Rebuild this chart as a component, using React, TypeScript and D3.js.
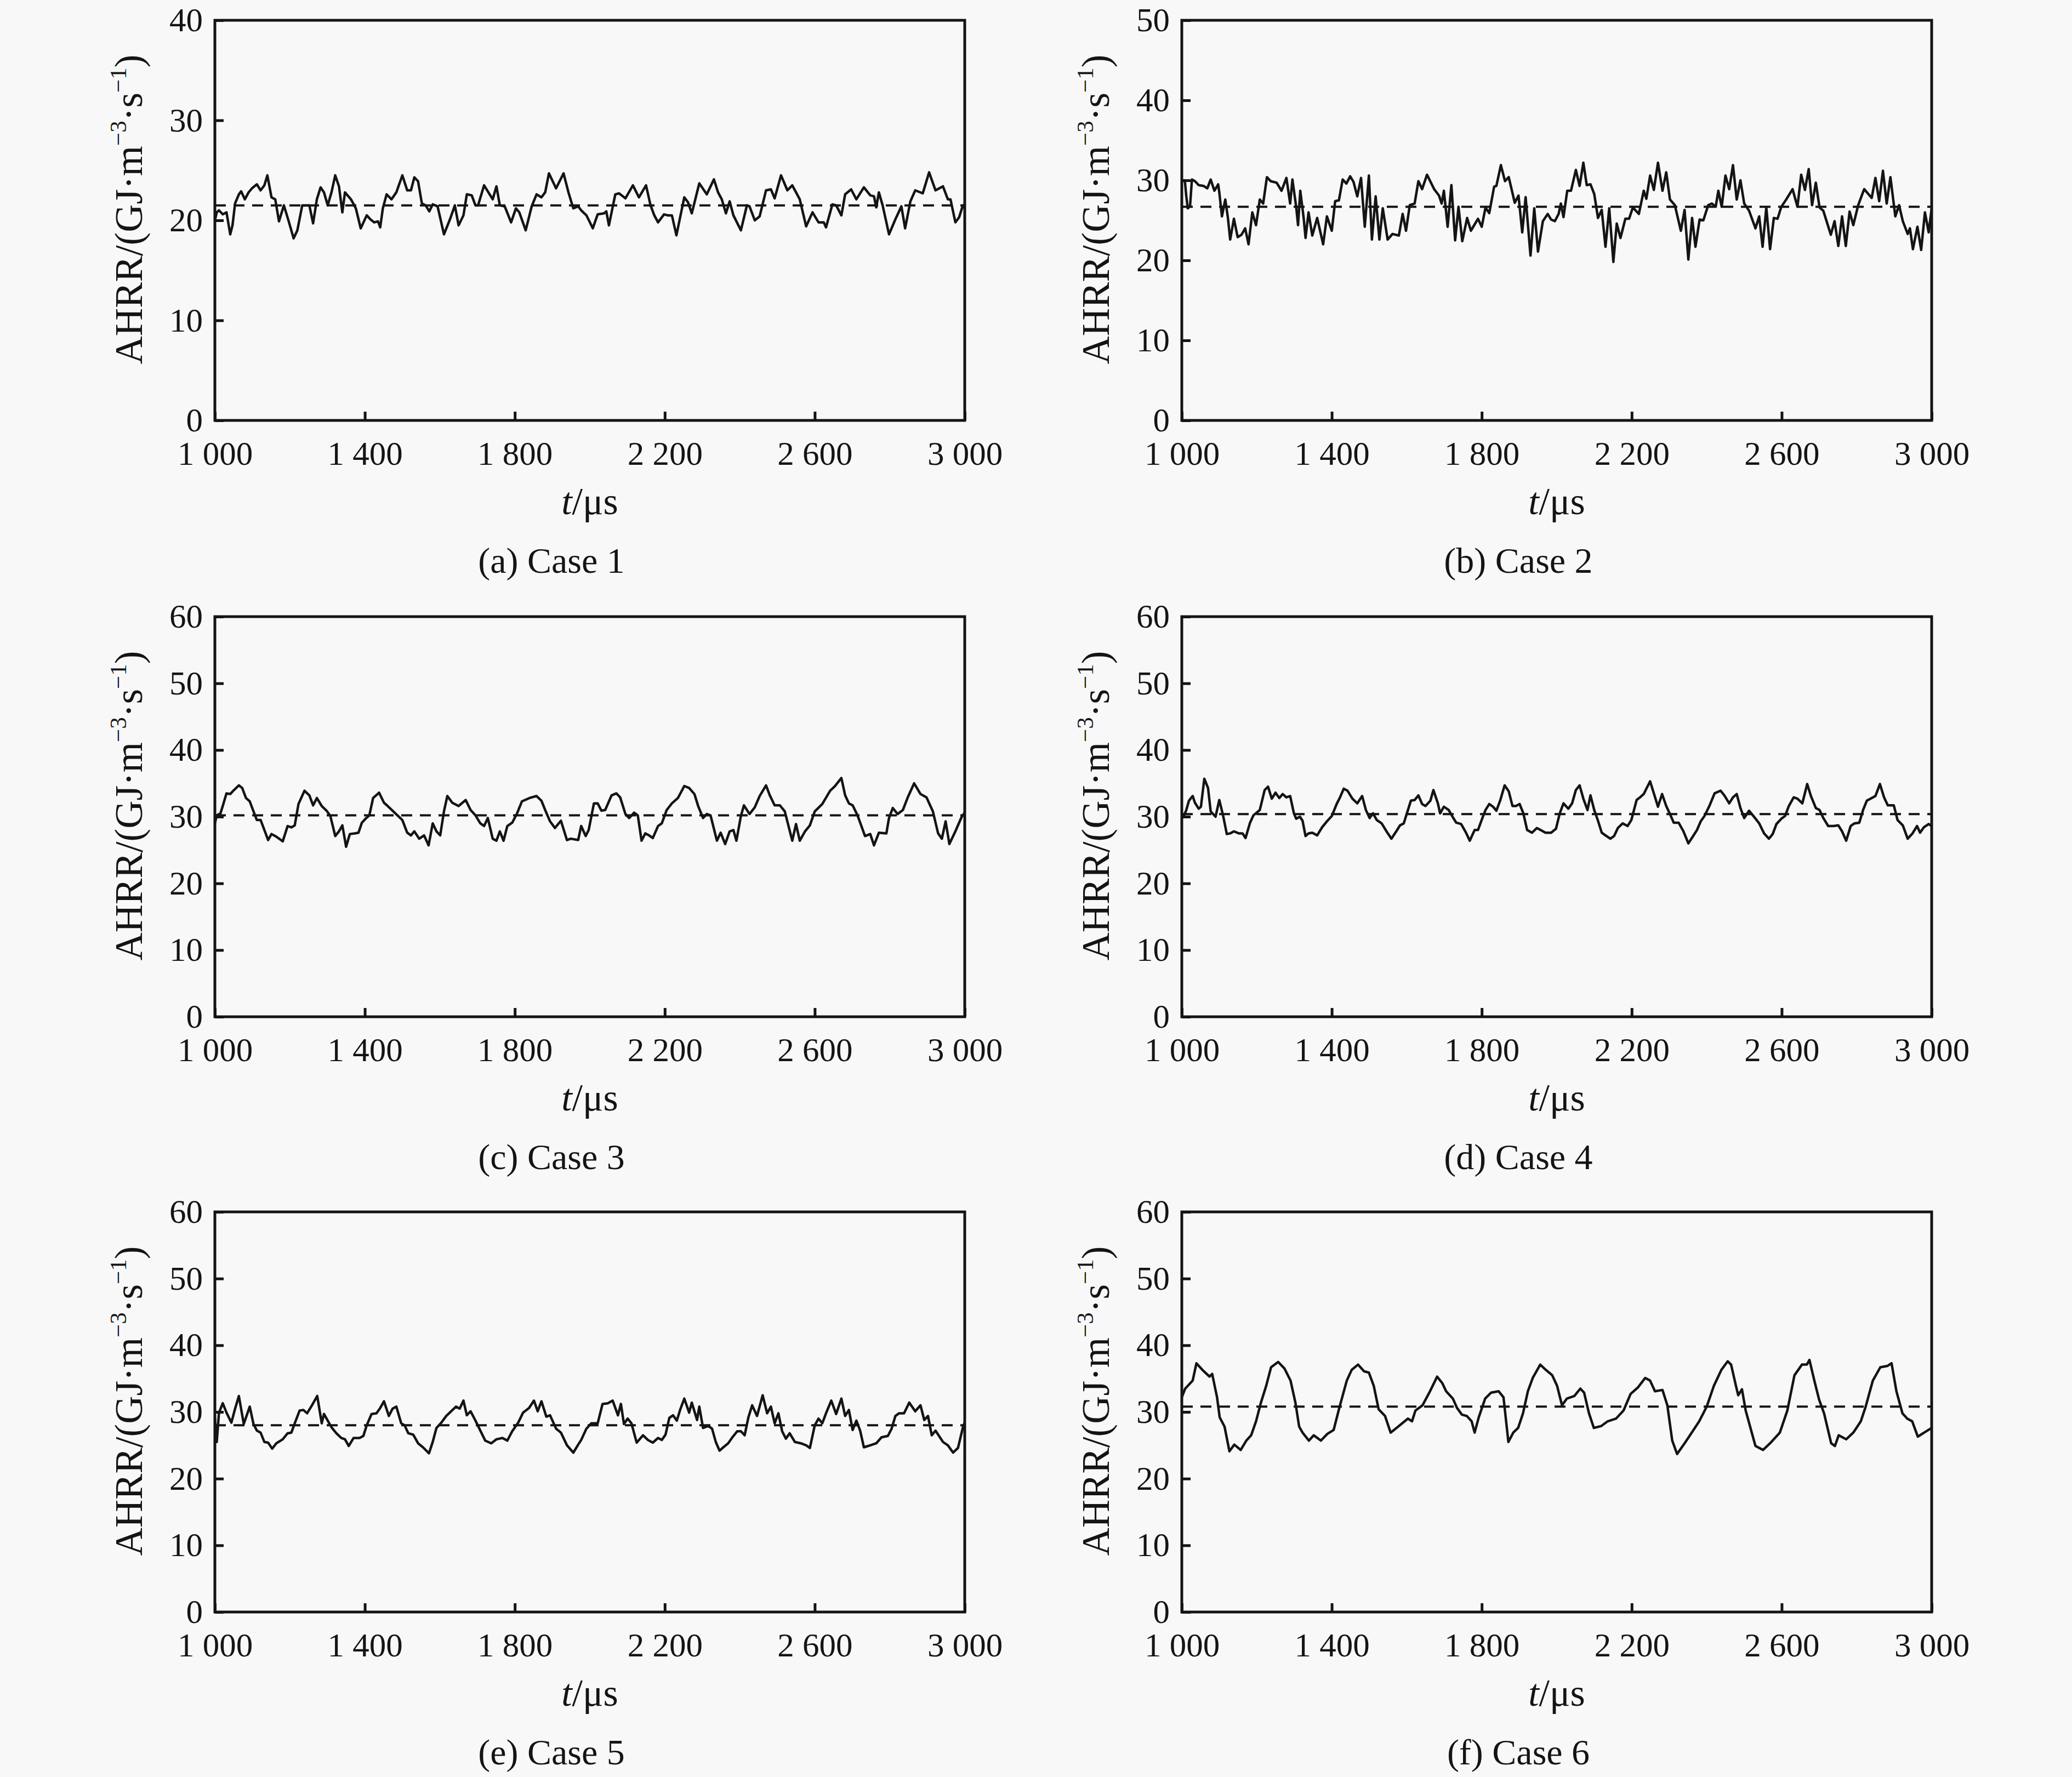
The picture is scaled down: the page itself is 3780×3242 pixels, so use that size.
import React, { useEffect, useRef } from 'react';
import * as d3 from 'd3';

type Pt = [number, number];

// AHRR time series, t in µs, value in GJ·m^-3·s^-1
const case1: Pt[] = [
  [1000, 20.0], [1005, 20.8], [1011, 21.0], [1021, 20.6], [1031, 20.8], [1041, 18.6], [1047, 19.5], [1054, 21.7],
  [1064, 22.6], [1070, 22.9], [1080, 22.1], [1090, 22.8], [1099, 23.2], [1112, 23.6], [1122, 23.0], [1132, 23.5],
  [1140, 24.5], [1151, 22.3], [1161, 22.1], [1171, 19.9], [1184, 21.5], [1197, 19.9], [1210, 18.2], [1220, 19.0],
  [1233, 21.5], [1243, 21.5], [1252, 21.5], [1262, 19.7], [1272, 22.1], [1282, 23.3], [1291, 22.8], [1301, 21.5],
  [1311, 22.8], [1321, 24.5], [1331, 23.4], [1340, 20.8], [1347, 22.8], [1363, 22.1], [1376, 21.2], [1389, 19.2],
  [1405, 20.5], [1415, 20.1], [1425, 19.8], [1435, 19.9], [1441, 19.3], [1448, 21.2], [1458, 22.6], [1471, 22.1],
  [1484, 22.8], [1500, 24.5], [1513, 23.0], [1523, 23.0], [1532, 24.3], [1542, 23.9], [1552, 21.7], [1562, 21.5],
  [1572, 20.9], [1581, 21.6], [1594, 21.4], [1611, 18.6], [1627, 20.1], [1640, 21.5], [1650, 19.5], [1663, 20.5],
  [1672, 22.6], [1685, 22.5], [1695, 21.5], [1702, 21.5], [1718, 23.5], [1741, 22.1], [1751, 23.4], [1760, 21.5],
  [1773, 21.4], [1790, 19.8], [1803, 21.2], [1812, 20.8], [1829, 19.0], [1845, 21.4], [1858, 22.6], [1871, 22.3],
  [1881, 22.8], [1891, 24.7], [1910, 23.2], [1930, 24.7], [1943, 22.8], [1956, 21.2], [1969, 21.4], [1977, 21.0],
  [1991, 20.5], [2008, 19.2], [2021, 20.6], [2038, 20.7], [2044, 20.9], [2051, 19.5], [2068, 22.6], [2078, 22.7],
  [2095, 22.2], [2115, 23.5], [2131, 22.3], [2150, 23.5], [2162, 21.5], [2172, 20.5], [2182, 19.8], [2198, 20.6],
  [2208, 20.5], [2219, 20.5], [2231, 18.5], [2242, 20.5], [2252, 22.3], [2262, 21.8], [2272, 20.7], [2292, 23.7],
  [2312, 22.6], [2331, 24.1], [2342, 22.8], [2352, 22.1], [2363, 20.7], [2373, 21.9], [2383, 20.5], [2403, 19.0],
  [2419, 21.5], [2426, 21.4], [2440, 20.0], [2453, 20.4], [2470, 23.0], [2483, 23.1], [2493, 22.2], [2510, 24.5],
  [2527, 23.0], [2540, 23.5], [2560, 22.1], [2577, 19.4], [2594, 20.8], [2610, 19.8], [2624, 19.8], [2630, 19.3],
  [2647, 21.6], [2657, 21.5], [2671, 20.5], [2681, 22.6], [2697, 23.1], [2711, 22.1], [2731, 23.3], [2748, 22.5],
  [2758, 22.4], [2764, 21.3], [2771, 22.8], [2781, 21.5], [2798, 18.6], [2815, 20.1], [2831, 21.4], [2841, 19.2],
  [2855, 21.9], [2868, 23.0], [2888, 22.7], [2905, 24.8], [2922, 23.0], [2942, 23.4], [2955, 22.1], [2962, 22.1],
  [2975, 19.8], [2985, 20.3], [2995, 21.5], [3000, 21.2],
];

const case2: Pt[] = [
  [1000, 29.9], [1008, 30.0], [1012, 28.0], [1016, 26.5], [1022, 26.8], [1027, 30.1], [1035, 29.9], [1045, 29.4],
  [1058, 29.3], [1068, 29.0], [1077, 30.1], [1087, 28.7], [1097, 29.5], [1100, 28.5], [1107, 25.5], [1116, 27.6],
  [1123, 25.3], [1129, 22.6], [1139, 25.2], [1149, 22.9], [1159, 23.2], [1169, 24.0], [1178, 22.0], [1188, 26.0],
  [1198, 24.4], [1208, 27.6], [1217, 27.1], [1227, 30.4], [1237, 29.9], [1253, 29.7], [1266, 28.7], [1279, 30.3],
  [1289, 27.1], [1295, 30.1], [1305, 26.7], [1310, 24.4], [1316, 28.7], [1325, 25.3], [1330, 22.8], [1338, 26.0],
  [1348, 23.1], [1361, 25.3], [1377, 22.0], [1387, 25.5], [1400, 23.7], [1409, 27.4], [1419, 27.5], [1429, 30.1],
  [1439, 29.6], [1449, 30.5], [1458, 29.8], [1468, 28.0], [1478, 30.3], [1488, 24.2], [1499, 30.6], [1507, 22.6],
  [1517, 28.0], [1527, 22.6], [1536, 26.5], [1549, 22.6], [1562, 23.3], [1579, 23.1], [1589, 25.8], [1598, 23.7],
  [1608, 26.9], [1621, 27.1], [1631, 29.9], [1641, 28.9], [1654, 30.7], [1673, 28.9], [1686, 28.1], [1693, 27.1],
  [1699, 28.7], [1709, 24.2], [1719, 29.4], [1729, 22.5], [1738, 26.7], [1748, 22.4], [1761, 25.3], [1771, 23.7],
  [1790, 25.2], [1800, 24.2], [1810, 26.6], [1820, 25.9], [1833, 29.2], [1839, 29.3], [1851, 31.9], [1862, 29.9],
  [1872, 30.4], [1888, 27.2], [1898, 28.1], [1908, 23.5], [1917, 27.9], [1930, 20.6], [1940, 26.5], [1950, 21.1],
  [1963, 24.9], [1976, 25.8], [1985, 25.1], [1995, 24.9], [2005, 25.8], [2011, 27.1], [2018, 25.4], [2028, 28.7],
  [2038, 28.7], [2051, 31.3], [2061, 29.3], [2071, 32.2], [2080, 29.4], [2090, 29.5], [2100, 28.3], [2110, 25.3],
  [2120, 26.3], [2130, 21.7], [2140, 26.5], [2151, 19.8], [2160, 24.6], [2170, 22.8], [2183, 25.2], [2193, 25.2],
  [2203, 26.6], [2219, 25.8], [2232, 28.7], [2239, 27.7], [2249, 30.6], [2259, 28.8], [2270, 32.2], [2282, 28.7],
  [2292, 31.0], [2302, 27.6], [2315, 26.9], [2331, 23.7], [2341, 26.3], [2351, 20.1], [2361, 25.3], [2370, 21.7],
  [2381, 25.1], [2391, 25.0], [2404, 26.9], [2414, 27.1], [2424, 26.7], [2431, 28.7], [2440, 26.7], [2450, 30.6],
  [2460, 28.9], [2470, 31.9], [2480, 27.6], [2490, 30.0], [2500, 27.1], [2513, 26.2], [2530, 24.0], [2540, 25.5],
  [2549, 21.7], [2559, 26.6], [2569, 21.4], [2579, 25.3], [2589, 25.2], [2599, 26.7], [2612, 27.6], [2629, 28.9],
  [2642, 26.7], [2652, 30.7], [2662, 28.8], [2672, 31.4], [2681, 26.9], [2691, 29.7], [2701, 26.6], [2711, 26.2],
  [2731, 23.2], [2741, 24.9], [2751, 21.8], [2761, 25.5], [2771, 21.8], [2781, 26.1], [2791, 24.4], [2804, 26.9],
  [2820, 28.9], [2840, 27.8], [2850, 30.3], [2860, 27.4], [2870, 31.2], [2880, 27.1], [2890, 30.4], [2903, 25.5],
  [2913, 26.9], [2923, 24.9], [2936, 23.3], [2942, 24.0], [2950, 21.4], [2962, 24.2], [2972, 21.3], [2982, 26.0],
  [2992, 23.5], [3000, 26.5],
];

const case3: Pt[] = [
  [1000, 29.0], [1005, 30.2], [1015, 30.5], [1021, 31.6], [1031, 33.5], [1041, 33.4], [1051, 34.0], [1064, 34.7],
  [1073, 34.3], [1083, 32.8], [1093, 32.3], [1103, 30.8], [1112, 29.5], [1122, 29.5], [1132, 28.0], [1142, 26.5],
  [1151, 27.4], [1164, 27.0], [1181, 26.3], [1194, 28.6], [1204, 28.4], [1213, 28.7], [1223, 31.9], [1239, 33.9],
  [1252, 33.2], [1262, 31.7], [1272, 32.8], [1285, 31.6], [1298, 30.9], [1308, 30.1], [1321, 27.1], [1331, 27.8],
  [1340, 28.7], [1350, 25.5], [1360, 27.4], [1373, 27.5], [1383, 27.6], [1392, 29.1], [1402, 29.7], [1412, 30.2],
  [1422, 32.8], [1438, 33.6], [1451, 32.1], [1461, 31.6], [1474, 30.9], [1487, 30.2], [1500, 29.5], [1513, 27.6],
  [1523, 27.2], [1532, 27.8], [1545, 26.7], [1558, 27.2], [1570, 25.7], [1581, 29.0], [1591, 27.8], [1601, 27.2],
  [1611, 30.8], [1620, 33.1], [1633, 32.1], [1650, 31.6], [1669, 32.5], [1682, 31.0], [1695, 30.2], [1708, 29.0],
  [1718, 28.6], [1728, 29.8], [1741, 26.7], [1751, 26.4], [1760, 27.8], [1770, 26.4], [1780, 28.6], [1793, 29.1],
  [1806, 30.5], [1819, 32.3], [1839, 32.8], [1858, 33.1], [1871, 32.4], [1881, 31.0], [1894, 29.3], [1907, 28.3],
  [1923, 29.4], [1939, 26.5], [1949, 26.7], [1969, 26.5], [1977, 28.6], [1989, 27.1], [1997, 28.0], [2011, 32.0],
  [2021, 32.0], [2031, 30.9], [2041, 31.0], [2058, 33.2], [2071, 33.5], [2081, 32.9], [2095, 30.4], [2105, 29.8],
  [2118, 30.6], [2128, 30.2], [2138, 26.4], [2148, 27.5], [2158, 27.2], [2168, 26.8], [2182, 28.6], [2192, 29.0],
  [2205, 31.0], [2219, 32.0], [2235, 32.8], [2252, 34.6], [2265, 34.3], [2279, 33.4], [2289, 31.6], [2302, 29.8],
  [2312, 30.4], [2322, 30.2], [2339, 26.4], [2349, 27.6], [2361, 25.9], [2373, 27.8], [2383, 28.0], [2391, 26.4],
  [2403, 30.1], [2411, 31.7], [2426, 30.4], [2440, 31.4], [2453, 33.1], [2470, 34.7], [2480, 33.2], [2493, 31.7],
  [2507, 31.7], [2520, 30.8], [2540, 26.4], [2550, 28.9], [2560, 26.4], [2574, 27.8], [2587, 28.7], [2600, 30.8],
  [2620, 31.9], [2641, 33.9], [2654, 34.6], [2671, 35.8], [2681, 33.2], [2691, 32.0], [2701, 31.7], [2714, 30.2],
  [2734, 27.1], [2748, 27.4], [2758, 25.7], [2771, 27.6], [2791, 27.5], [2798, 29.8], [2808, 31.3], [2821, 30.4],
  [2835, 31.0], [2848, 32.9], [2865, 35.0], [2882, 33.4], [2898, 32.9], [2915, 30.8], [2929, 27.5], [2939, 26.7],
  [2949, 29.3], [2959, 25.9], [2975, 27.8], [2992, 30.0], [3000, 30.6],
];

const case4: Pt[] = [
  [1000, 29.8], [1006, 30.2], [1012, 31.0], [1019, 32.4], [1029, 33.1], [1035, 32.1], [1045, 31.2], [1051, 31.5],
  [1060, 35.7], [1070, 34.3], [1077, 30.8], [1090, 30.0], [1100, 32.5], [1110, 30.2], [1120, 27.4], [1129, 27.5],
  [1139, 27.8], [1152, 27.5], [1162, 27.5], [1170, 26.8], [1182, 29.1], [1191, 30.2], [1208, 31.0], [1221, 34.0],
  [1230, 34.5], [1240, 32.7], [1250, 33.6], [1260, 32.8], [1269, 33.4], [1279, 32.9], [1289, 33.1], [1299, 30.5],
  [1305, 29.7], [1315, 30.0], [1322, 29.4], [1330, 27.1], [1338, 27.5], [1348, 27.6], [1361, 27.2], [1374, 28.4],
  [1387, 29.3], [1400, 30.1], [1413, 31.9], [1422, 32.9], [1432, 34.2], [1442, 33.9], [1455, 32.7], [1468, 32.0],
  [1481, 33.1], [1491, 31.0], [1501, 29.8], [1510, 30.5], [1520, 29.5], [1533, 29.0], [1546, 27.8], [1559, 26.7],
  [1572, 27.8], [1582, 28.7], [1592, 29.0], [1602, 30.8], [1611, 32.4], [1621, 32.5], [1631, 33.2], [1641, 31.9],
  [1650, 31.6], [1663, 32.4], [1671, 34.0], [1683, 32.0], [1689, 30.5], [1699, 31.5], [1712, 31.0], [1722, 30.0],
  [1732, 29.1], [1745, 28.9], [1758, 27.6], [1768, 26.4], [1781, 28.0], [1790, 28.0], [1803, 30.0], [1810, 31.0],
  [1820, 31.9], [1830, 31.5], [1839, 30.9], [1849, 32.4], [1861, 34.7], [1872, 33.8], [1882, 31.6], [1891, 31.6],
  [1901, 31.9], [1911, 30.5], [1921, 28.0], [1934, 27.6], [1947, 28.3], [1957, 28.0], [1970, 27.6], [1985, 27.6],
  [1998, 28.2], [2008, 30.5], [2018, 32.0], [2031, 31.2], [2041, 32.0], [2051, 34.0], [2061, 34.7], [2071, 32.7],
  [2082, 31.0], [2090, 33.2], [2100, 31.0], [2110, 29.4], [2120, 27.6], [2130, 27.2], [2143, 26.7], [2153, 27.1],
  [2163, 28.3], [2176, 29.0], [2189, 28.6], [2199, 29.5], [2213, 32.5], [2222, 32.9], [2232, 33.4], [2239, 34.2],
  [2249, 35.3], [2259, 33.5], [2270, 31.5], [2281, 33.4], [2292, 31.6], [2302, 30.4], [2312, 29.1], [2325, 29.1],
  [2338, 27.8], [2351, 26.0], [2365, 27.2], [2374, 28.0], [2384, 29.3], [2394, 30.1], [2407, 31.6], [2421, 33.5],
  [2437, 33.9], [2447, 33.2], [2460, 32.0], [2470, 32.9], [2480, 33.4], [2490, 31.3], [2500, 29.8], [2513, 30.9],
  [2526, 30.0], [2540, 29.0], [2553, 27.5], [2566, 26.7], [2576, 27.4], [2586, 28.9], [2599, 29.7], [2609, 30.1],
  [2619, 31.6], [2632, 32.9], [2642, 32.7], [2655, 32.0], [2668, 34.9], [2678, 33.1], [2691, 31.3], [2701, 31.0],
  [2711, 29.8], [2724, 28.6], [2738, 28.6], [2751, 28.7], [2761, 27.8], [2772, 26.4], [2784, 28.6], [2794, 29.0],
  [2807, 29.1], [2817, 31.0], [2827, 32.4], [2840, 32.8], [2850, 33.1], [2862, 34.9], [2873, 32.9], [2883, 31.7],
  [2899, 31.7], [2909, 29.5], [2923, 28.7], [2936, 26.7], [2949, 27.5], [2961, 28.6], [2969, 27.6], [2979, 28.4],
  [2992, 28.9], [3000, 28.6],
];

const case5: Pt[] = [
  [1000, 29.2], [1005, 25.5], [1011, 29.9], [1021, 31.3], [1031, 29.9], [1044, 28.4], [1054, 30.5], [1064, 32.4],
  [1077, 28.2], [1093, 30.8], [1103, 28.2], [1112, 27.2], [1122, 26.9], [1132, 25.5], [1142, 25.4], [1153, 24.5],
  [1164, 25.3], [1181, 25.9], [1194, 26.8], [1204, 26.9], [1213, 28.3], [1226, 30.2], [1236, 30.3], [1246, 29.8],
  [1259, 31.0], [1273, 32.4], [1285, 28.3], [1291, 29.7], [1301, 28.7], [1311, 27.7], [1324, 26.8], [1337, 26.1],
  [1347, 25.9], [1357, 24.9], [1370, 26.1], [1386, 26.1], [1396, 26.4], [1405, 28.0], [1418, 29.7], [1431, 29.8],
  [1441, 30.6], [1451, 31.6], [1464, 29.4], [1474, 30.5], [1484, 30.8], [1497, 28.3], [1506, 28.0], [1516, 26.8],
  [1529, 26.6], [1542, 25.3], [1555, 24.7], [1571, 23.8], [1581, 25.5], [1591, 27.6], [1604, 28.4], [1617, 29.4],
  [1630, 30.1], [1643, 30.8], [1653, 30.5], [1663, 31.7], [1672, 29.5], [1682, 30.1], [1695, 28.7], [1708, 27.2],
  [1721, 25.7], [1737, 25.3], [1751, 25.9], [1767, 26.1], [1780, 25.7], [1793, 27.1], [1809, 28.4], [1822, 29.9],
  [1838, 30.6], [1851, 31.7], [1861, 30.1], [1871, 31.6], [1884, 29.3], [1894, 29.5], [1910, 27.5], [1923, 26.9],
  [1939, 25.0], [1956, 23.9], [1969, 25.1], [1977, 25.8], [1991, 27.5], [2004, 28.3], [2021, 28.3], [2034, 31.2],
  [2048, 31.3], [2061, 31.7], [2075, 29.5], [2083, 31.2], [2091, 28.2], [2101, 29.0], [2111, 28.3], [2125, 25.4],
  [2142, 26.5], [2155, 25.8], [2168, 25.4], [2182, 26.1], [2192, 25.8], [2202, 26.6], [2212, 29.1], [2222, 29.5],
  [2232, 28.7], [2242, 30.5], [2252, 32.0], [2265, 29.9], [2272, 31.4], [2286, 28.8], [2292, 30.8], [2302, 27.6],
  [2316, 27.9], [2326, 27.5], [2336, 25.5], [2346, 24.2], [2356, 24.7], [2369, 25.3], [2379, 26.1], [2393, 27.1],
  [2403, 27.1], [2413, 26.5], [2423, 29.2], [2433, 31.0], [2446, 29.4], [2461, 32.5], [2473, 29.8], [2483, 30.8],
  [2493, 28.3], [2503, 29.8], [2513, 27.1], [2523, 26.0], [2533, 26.8], [2547, 25.5], [2563, 25.3], [2577, 25.0],
  [2587, 24.6], [2600, 28.0], [2610, 29.0], [2620, 28.3], [2630, 29.8], [2644, 31.7], [2657, 29.7], [2671, 32.0],
  [2681, 29.4], [2691, 30.3], [2701, 27.3], [2711, 28.7], [2721, 27.2], [2731, 24.7], [2748, 25.0], [2764, 25.3],
  [2778, 26.2], [2795, 26.4], [2805, 27.5], [2815, 29.4], [2825, 29.8], [2838, 29.8], [2852, 31.4], [2868, 30.1],
  [2882, 31.0], [2892, 28.8], [2902, 29.4], [2912, 26.5], [2922, 27.2], [2942, 25.5], [2955, 25.0], [2969, 23.9],
  [2982, 24.6], [2996, 27.9], [3000, 28.4],
];

const case6: Pt[] = [
  [1000, 32.2], [1009, 33.5], [1029, 34.7], [1039, 37.3], [1055, 36.3], [1074, 35.3], [1081, 35.7], [1094, 32.2],
  [1101, 29.2], [1114, 27.8], [1127, 24.1], [1140, 25.1], [1157, 24.3], [1172, 25.7], [1185, 26.5], [1198, 28.6],
  [1211, 31.4], [1225, 33.9], [1238, 36.7], [1257, 37.5], [1274, 36.5], [1290, 34.7], [1303, 31.4], [1313, 27.8],
  [1322, 26.9], [1339, 25.7], [1352, 26.5], [1371, 25.7], [1388, 26.7], [1405, 27.3], [1420, 30.6], [1440, 34.7],
  [1453, 36.3], [1470, 37.1], [1486, 36.1], [1499, 35.9], [1512, 33.9], [1525, 30.4], [1542, 29.4], [1557, 26.9],
  [1577, 27.8], [1590, 28.4], [1603, 29.0], [1614, 28.6], [1623, 30.2], [1642, 31.0], [1662, 33.1], [1681, 35.3],
  [1695, 34.3], [1705, 33.1], [1723, 32.0], [1734, 30.6], [1747, 29.6], [1760, 29.4], [1773, 28.6], [1781, 26.9],
  [1792, 29.2], [1809, 32.0], [1825, 32.9], [1845, 33.1], [1858, 32.2], [1871, 25.5], [1884, 26.9], [1897, 27.6],
  [1910, 29.8], [1923, 33.1], [1936, 35.1], [1956, 37.1], [1971, 36.3], [1988, 35.5], [2001, 33.9], [2014, 31.0],
  [2027, 32.0], [2047, 32.4], [2063, 33.5], [2073, 32.9], [2086, 29.8], [2099, 27.6], [2119, 27.9], [2136, 28.6],
  [2158, 29.0], [2178, 30.2], [2197, 32.7], [2217, 33.7], [2236, 35.1], [2249, 34.7], [2262, 33.1], [2282, 33.3],
  [2295, 31.0], [2308, 25.7], [2321, 23.7], [2341, 25.3], [2360, 26.9], [2380, 28.6], [2400, 30.8], [2419, 33.9],
  [2439, 36.3], [2456, 37.6], [2465, 37.1], [2478, 33.9], [2484, 32.5], [2494, 33.4], [2504, 30.2], [2530, 24.9],
  [2550, 24.3], [2569, 25.3], [2595, 26.9], [2615, 30.2], [2634, 35.5], [2654, 37.1], [2667, 37.1], [2674, 37.8],
  [2687, 34.7], [2700, 31.8], [2713, 29.8], [2732, 25.3], [2742, 24.9], [2752, 26.5], [2772, 25.9], [2791, 26.9],
  [2811, 28.6], [2824, 30.8], [2843, 34.7], [2863, 36.7], [2882, 36.9], [2893, 37.3], [2906, 33.1], [2922, 29.8],
  [2935, 29.0], [2948, 28.6], [2963, 26.3], [2980, 26.9], [3000, 27.6],
];

const seriesList = [case1, case2, case3, case4, case5, case6];
const meanValues = [21.5, 26.7, 30.2, 30.4, 28.0, 30.8];
const yMaxValues = [40, 50, 60, 60, 60, 60];
const captions = ['(a) Case 1', '(b) Case 2', '(c) Case 3', '(d) Case 4', '(e) Case 5', '(f) Case 6'];
const xTicks = [1000, 1400, 1800, 2200, 2600, 3000];

const W = 3780;
const H = 3242;
const colX = [392, 2156];
const rowY = [37, 1125, 2211];
const plotW = 1368;
const plotH = 730;
const ink = '#141414';
const serif = '"Liberation Serif", "Times New Roman", serif';

const fmtX = (n: number) => `${Math.floor(n / 1000)}\u00a0${String(n % 1000).padStart(3, '0')}`;

const App: React.FC = () => {
  const svgRef = useRef<SVGSVGElement | null>(null);

  useEffect(() => {
    if (!svgRef.current) return;
    const svg = d3.select(svgRef.current);
    svg.selectAll('*').remove();

    svg.append('rect').attr('width', W).attr('height', H).attr('fill', '#f8f8f8');

    seriesList.forEach((data, i) => {
      const left = colX[i % 2];
      const top = rowY[Math.floor(i / 2)];
      const g = svg.append('g').attr('transform', `translate(${left},${top})`);

      const x = d3.scaleLinear().domain([1000, 3000]).range([0, plotW]);
      const y = d3.scaleLinear().domain([0, yMaxValues[i]]).range([plotH, 0]);

      // x axis, ticks pointing inward
      const gx = g.append('g')
        .attr('transform', `translate(0,${plotH})`)
        .call(d3.axisBottom(x).tickValues(xTicks).tickSizeInner(-16).tickSizeOuter(0)
          .tickPadding(38).tickFormat(d => fmtX(d as number)));
      gx.select('.domain').remove();
      gx.attr('font-family', serif).attr('font-size', 61).attr('color', ink);
      gx.selectAll('line').attr('stroke-width', 5);

      // y axis
      const gy = g.append('g')
        .call(d3.axisLeft(y).ticks(yMaxValues[i] / 10).tickSizeInner(-16).tickSizeOuter(0)
          .tickPadding(22).tickFormat(d3.format('d')));
      gy.select('.domain').remove();
      gy.attr('font-family', serif).attr('font-size', 61).attr('color', ink);
      gy.selectAll('line').attr('stroke-width', 5);

      // mean value
      g.append('line')
        .attr('x1', x(1000)).attr('x2', x(3000))
        .attr('y1', y(meanValues[i])).attr('y2', y(meanValues[i]))
        .attr('stroke', ink).attr('stroke-width', 4)
        .attr('stroke-dasharray', '20 14');

      // AHRR curve
      const line = d3.line<Pt>().x(d => x(d[0])).y(d => y(d[1]));
      g.append('path')
        .datum(data)
        .attr('d', line)
        .attr('fill', 'none')
        .attr('stroke', ink)
        .attr('stroke-width', 4.5)
        .attr('stroke-linejoin', 'round');

      // frame
      g.append('rect')
        .attr('width', plotW).attr('height', plotH)
        .attr('fill', 'none').attr('stroke', ink).attr('stroke-width', 5);

      // y label
      const yl = g.append('text')
        .attr('transform', `translate(-133,${plotH / 2 - 20}) rotate(-90)`)
        .attr('text-anchor', 'middle')
        .attr('font-family', serif).attr('font-size', 71).attr('fill', ink);
      yl.append('tspan').text('AHRR/(GJ\u00b7m');
      yl.append('tspan').attr('font-size', 43).attr('dy', -29).text('\u22123');
      yl.append('tspan').attr('dy', 29).text('\u00b7s');
      yl.append('tspan').attr('font-size', 43).attr('dy', -29).text('\u22121');
      yl.append('tspan').attr('dy', 29).text(')');

      // x label
      const xl = g.append('text')
        .attr('x', plotW / 2).attr('y', plotH + 171)
        .attr('text-anchor', 'middle')
        .attr('font-family', serif).attr('font-size', 70).attr('fill', ink);
      xl.append('tspan').attr('font-style', 'italic').text('t');
      xl.append('tspan').text('/\u03bcs');

      // caption
      g.append('text')
        .attr('x', plotW / 2 - 70).attr('y', plotH + 278)
        .attr('text-anchor', 'middle')
        .attr('font-family', serif).attr('font-size', 66).attr('fill', ink)
        .text(captions[i]);
    });
  }, []);

  return (
    <svg
      ref={svgRef}
      width={W}
      height={H}
      style={{ position: 'absolute', left: 0, top: 0, display: 'block' }}
    />
  );
};

export default App;
